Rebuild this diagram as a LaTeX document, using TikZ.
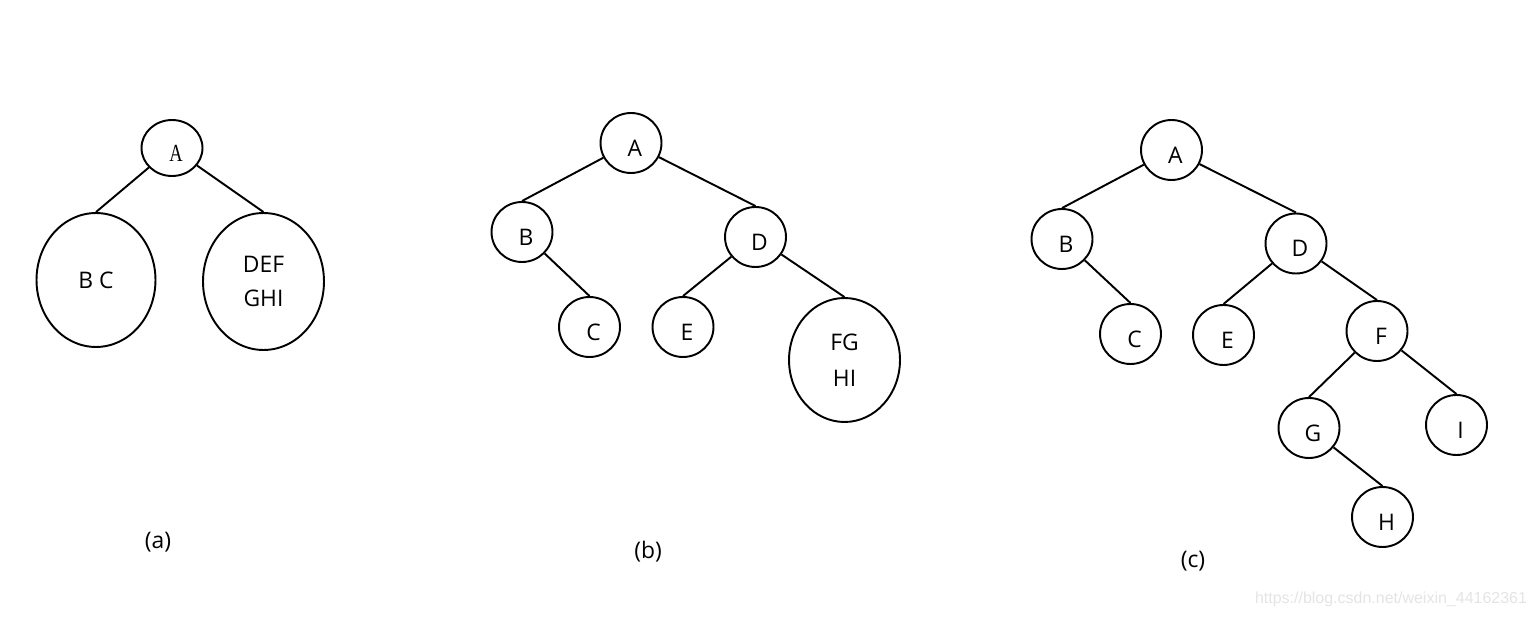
\documentclass[tikz,border=0pt]{standalone}
\usepackage{fontspec}
\setmainfont{Open Sans}
\newfontfamily\songfont[FakeStretch=0.75]{Liberation Serif}
\newfontfamily\wmfont{Liberation Sans}
\usetikzlibrary{shapes.geometric}
\definecolor{wmgray}{RGB}{228,228,228}

\begin{document}
\begin{tikzpicture}[
   x=0.02cm, y=-0.02cm,
   every node/.append style = {font=\fontsize{13}{19}\selectfont},
   vertex/.style  = {ellipse, draw, line width=1.1pt, inner sep=0pt,
                     minimum width=1.22cm, minimum height=1.2cm,
                     text height=15pt, text depth=0pt,
                     execute at begin node={\hspace*{4.5pt}}},
   subtree/.style = {ellipse, draw, line width=1.1pt, inner sep=0pt,
                     align=center},
   treeEdge/.style = {line width=1.1pt},
   caption/.style = {font=\fontsize{13}{16}\selectfont}
]
\useasboundingbox (0,0) rectangle (1535,618);

% (a)
\node[vertex, minimum height=1.12cm] (aA) at (172,148) {\songfont\fontsize{14}{16}\selectfont A};
\node[subtree, minimum width=2.38cm, minimum height=2.68cm] (aBC) at (96,280) {B C};
\node[subtree, minimum width=2.42cm, minimum height=2.74cm] (aDI) at (263.5,281.5) {DEF\\GHI};
\node[caption] (capA) at (158,542) {(a)};

% (b)
\node[vertex] (bA) at (631,143) {A};
\node[vertex] (bB) at (522,232) {B};
\node[vertex] (bD) at (755.5,237) {D};
\node[vertex] (bC) at (589.5,327) {C};
\node[vertex] (bE) at (683,327) {E};
\node[subtree, minimum width=2.22cm, minimum height=2.48cm] (bFI) at (844.5,360) {FG\\[1.5pt]HI};
\node[caption] (capB) at (648,552) {(b)};

% (c)
\node[vertex] (cA) at (1171.5,150) {A};
\node[vertex] (cB) at (1062,239) {B};
\node[vertex] (cD) at (1296,243.5) {D};
\node[vertex] (cC) at (1130.5,334) {C};
\node[vertex] (cE) at (1223.5,335) {E};
\node[vertex] (cF) at (1377,331) {F};
\node[vertex] (cG) at (1309,428) {G};
\node[vertex] (cI) at (1456.5,425) {I};
\node[vertex] (cH) at (1382.5,517) {H};
\node[caption] (capC) at (1193,561) {(c)};

\foreach \p/\c in {aA/aBC,aA/aDI,
                   bA/bB,bA/bD,bB/bC,bD/bE,bD/bFI,
                   cA/cB,cA/cD,cB/cC,cD/cE,cD/cF,cF/cG,cF/cI,cG/cH}
   \draw[treeEdge] (\p) -- (\c.north);

\node[font=\wmfont\fontsize{9.1}{11}\selectfont, text=wmgray] (wm) at (1391,599)
   {https://blog.csdn.net/weixin\_44162361};
\end{tikzpicture}
\end{document}
